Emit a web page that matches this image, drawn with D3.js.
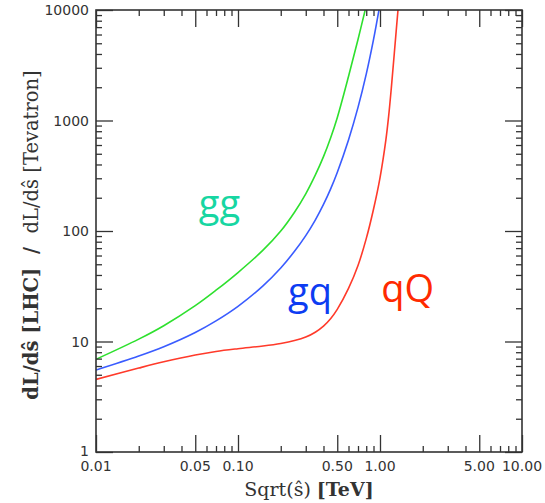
<!DOCTYPE html>
<html>
<head>
<meta charset="utf-8">
<script src="https://cdn.jsdelivr.net/npm/d3@7"></script>
<style>
  html, body { margin: 0; padding: 0; background: #fff; }
  svg { display: block; }
</style>
</head>
<body>
<svg id="chart" width="545" height="503"></svg>
<script>
// ---- data ----
const sqrtS = [0.01, 0.02, 0.03, 0.05, 0.07, 0.1, 0.15, 0.2, 0.25, 0.3, 0.35, 0.4, 0.45, 0.5, 0.6, 0.7, 0.8, 0.9, 1.0, 1.1, 1.15, 1.2, 1.3, 1.4];
const ggRatio = [6.9, 10.5, 13.9, 21.1, 29.1, 42.1, 67.1, 100, 148, 217, 320, 471, 703, 1061, 2500, 5410, 10960, null, null, null, null, null, null, null];
const gqRatio = [5.52, 7.39, 8.97, 12.07, 15.38, 20.83, 31.9, 46.3, 65.5, 90.9, 125.6, 174, 242, 339, 667, 1314, 2630, 5395, 11290, null, null, null, null, null];
const qQRatio = [4.54, 5.75, 6.55, 7.55, 8.13, 8.61, 9.11, 9.60, 10.19, 10.96, 12.12, 13.76, 16.13, 19.5, 30.2, 48.7, 85.3, 157.5, 303, 668, 1089, 1935, 6437, 19570];
const seriesNames = ["gg", "gq", "qQ"];
const xMajorTicks = [0.01, 0.05, 0.1, 0.5, 1, 5, 10];
const xTickLabels = ["0.01", "0.05", "0.10", "0.50", "1.00", "5.00", "10.00"];
const yMajorTicks = [1, 10, 100, 1000, 10000];
const yTickLabels = ["1", "10", "100", "1000", "10000"];

// ---- layout ----
const L = 96, R = 522, T = 10, B = 452;
const svg = d3.select("#chart");
const x = d3.scaleLog().domain([0.01, 10]).range([L, R]);
const y = d3.scaleLog().domain([1, 10000]).range([B, T]);

const lineColors = { gg: "#2ee02e", gq: "#3a5cff", qQ: "#ff3a2a" };
const textColors = { gg: "#17d6a2", gq: "#0d3cf2", qQ: "#ff2a00" };
const seriesData = { gg: ggRatio, gq: gqRatio, qQ: qQRatio };

svg.append("defs").append("clipPath").attr("id", "plotclip")
  .append("rect").attr("x", L).attr("y", T).attr("width", R - L).attr("height", B - T);

// curves
const line = d3.line()
  .defined(d => d[1] != null)
  .x(d => x(d[0])).y(d => y(d[1]))
  .curve(d3.curveCatmullRom.alpha(0.5));

const plot = svg.append("g").attr("clip-path", "url(#plotclip)");
seriesNames.forEach(name => {
  const pts = sqrtS.map((s, i) => [s, seriesData[name][i]]);
  plot.append("path")
    .attr("d", line(pts))
    .attr("fill", "none")
    .attr("stroke", lineColors[name])
    .attr("stroke-width", 1.6);
});

// axes (ticks inward on all four sides)
const axisColor = "#333";
const xMinor = x.ticks().filter(v => !xMajorTicks.some(m => Math.abs(m - v) < 1e-9));
const yMinor = y.ticks().filter(v => !yMajorTicks.some(m => Math.abs(m - v) < 1e-9));
const MAJ = 17, MIN = 6;

function addAxis(axisGen, transform, ticks, size) {
  const g = svg.append("g").attr("transform", transform)
    .call(axisGen.tickValues(ticks).tickSizeInner(size).tickSizeOuter(0).tickFormat(() => ""));
  g.select(".domain").remove();
  g.selectAll(".tick line").attr("stroke", axisColor).attr("stroke-width", 1.3);
  return g;
}
addAxis(d3.axisTop(x), `translate(0,${B})`, xMajorTicks, MAJ);
addAxis(d3.axisTop(x), `translate(0,${B})`, xMinor, MIN);
addAxis(d3.axisBottom(x), `translate(0,${T})`, xMajorTicks, MAJ);
addAxis(d3.axisBottom(x), `translate(0,${T})`, xMinor, MIN);
addAxis(d3.axisRight(y), `translate(${L},0)`, yMajorTicks, MAJ);
addAxis(d3.axisRight(y), `translate(${L},0)`, yMinor, MIN);
addAxis(d3.axisLeft(y), `translate(${R},0)`, yMajorTicks, MAJ);
addAxis(d3.axisLeft(y), `translate(${R},0)`, yMinor, MIN);

// tick labels
svg.append("g").selectAll("text").data(xMajorTicks).join("text")
  .attr("x", d => x(d)).attr("y", 471)
  .attr("text-anchor", "middle")
  .attr("fill", "#333")
  .style("font-family", "'DejaVu Sans', sans-serif").style("font-size", "14px")
  .text((d, i) => xTickLabels[i]);
svg.append("g").selectAll("text").data(yMajorTicks).join("text")
  .attr("x", 89).attr("y", d => y(d)).attr("dy", d => d === 1 ? "0.25em" : "0.36em")
  .attr("text-anchor", "end")
  .attr("fill", "#333")
  .style("font-family", "'DejaVu Sans', sans-serif").style("font-size", "14px")
  .text((d, i) => yTickLabels[i]);

// frame
svg.append("rect").attr("x", L).attr("y", T).attr("width", R - L).attr("height", B - T)
  .attr("fill", "none").attr("stroke", axisColor).attr("stroke-width", 1.6);

// axis titles
const xt = svg.append("text")
  .attr("x", (L + R) / 2).attr("y", 496)
  .attr("text-anchor", "middle").attr("fill", "#333")
  .style("font-family", "'DejaVu Serif', serif").style("font-size", "19px");
xt.append("tspan").text("Sqrt(ŝ) ");
xt.append("tspan").attr("font-weight", "bold").text("[TeV]");

const yt = svg.append("text")
  .attr("transform", `translate(38,${(T + B) / 2 + 4}) rotate(-90)`)
  .attr("text-anchor", "middle").attr("fill", "#333")
  .attr("xml:space", "preserve")
  .style("white-space", "pre")
  .style("font-family", "'DejaVu Serif', serif").style("font-size", "19.5px");
yt.append("tspan").attr("font-weight", "bold").text("dL/dŝ [LHC]  /  ");
yt.append("tspan").text("dL/dŝ [Tevatron]");

// series labels
const labelPos = { gg: [0.053, 134], gq: [0.225, 21.5], qQ: [1.02, 23] };
seriesNames.forEach(name => {
  svg.append("text")
    .attr("x", x(labelPos[name][0])).attr("y", y(labelPos[name][1]))
    .attr("fill", textColors[name])
    .style("font-family", "'Open Sans', sans-serif").style("font-size", "38px")
    .text(name);
});
</script>
</body>
</html>
